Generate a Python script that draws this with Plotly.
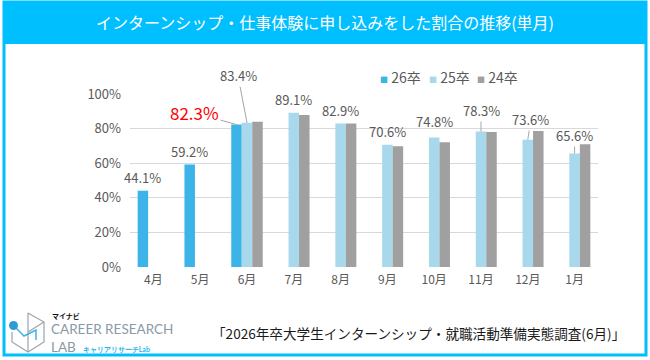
import plotly.graph_objects as go

# ---------------- data ----------------
months = ["4月", "5月", "6月", "7月", "8月", "9月", "10月", "11月", "12月", "1月"]
v26 = [44.1, 59.2, 82.3, None, None, None, None, None, None, None]
v25 = [None, None, 83.4, 89.1, 82.9, 70.6, 74.8, 78.3, 73.6, 65.6]
v24 = [None, None, 84.0, 87.9, 82.9, 69.8, 72.1, 78.0, 78.6, 70.9]
series_names = ["26卒", "25卒", "24卒"]
y_ticks = [0, 20, 40, 60, 80, 100]
y_tick_labels = ["0%", "20%", "40%", "60%", "80%", "100%"]

title_text = "インターンシップ・仕事体験に申し込みをした割合の推移(単月)"
source_text = "「2026年卒大学生インターンシップ・就職活動準備実態調査(6月)」"

# ---------------- style ----------------
C26, C25, C24 = "#3DB4E7", "#A7D8EB", "#A0A0A0"
CYAN = "#00BFFF"
GRAY_TXT = "#595959"
FONT = "Noto Sans CJK JP"

W, H = 650, 360
L, R, T, B = 130, 598, 94, 267   # plot area in pixels
SLOT = 10.5                       # bar slot width in pixels


def px(x):
    return (x - L) / (R - L)


def py(y):
    return (B - y) / (B - T)


fig = go.Figure()
for name, vals, col in zip(series_names, [v26, v25, v24], [C26, C25, C24]):
    fig.add_trace(go.Bar(x=months, y=vals, name=name, marker_color=col,
                         marker_line_width=0, showlegend=False))

annotations = []
# special label offsets (pixels): (ax, ay) for leader-line labels
leader = {"11月": (0, -21), "12月": (3, -20), "1月": (0, -18)}
for i, m in enumerate(months):
    if v26[i] is not None and v25[i] is None:
        annotations.append(dict(x=m, y=v26[i], text=f"{v26[i]:.1f}%", showarrow=False,
                                xshift=-SLOT, yshift=13, yanchor="middle",
                                font=dict(size=13, color=GRAY_TXT, family=FONT)))
    elif v26[i] is not None and v25[i] is not None:
        annotations.append(dict(x=m, y=v26[i], text=f"{v26[i]:.1f}%", showarrow=True,
                                arrowhead=0, arrowwidth=1, arrowcolor="#A6A6A6",
                                ax=-42, ay=-12, xshift=-SLOT,
                                font=dict(size=17, color="#FF0000", family=FONT)))
        annotations.append(dict(x=m, y=v25[i], text=f"{v25[i]:.1f}%", showarrow=True,
                                arrowhead=0, arrowwidth=1, arrowcolor="#A6A6A6",
                                ax=-9, ay=-47,
                                font=dict(size=13, color=GRAY_TXT, family=FONT)))
    elif v25[i] is not None:
        if m in leader:
            ax, ay = leader[m]
            annotations.append(dict(x=m, y=v25[i], text=f"{v25[i]:.1f}%", showarrow=True,
                                    arrowhead=0, arrowwidth=1, arrowcolor="#A6A6A6",
                                    ax=ax, ay=ay,
                                    font=dict(size=13, color=GRAY_TXT, family=FONT)))
        else:
            annotations.append(dict(x=m, y=v25[i], text=f"{v25[i]:.1f}%", showarrow=False,
                                    yshift=16 if m == "10月" else 13, yanchor="middle",
                                    font=dict(size=13, color=GRAY_TXT, family=FONT)))

# legend (manual)
leg_x = [378, 427, 475]
for name, col, lx in zip(series_names, [C26, C25, C24], leg_x):
    annotations.append(dict(xref="paper", yref="paper", x=px(lx), y=py(77),
                            xanchor="left", yanchor="middle", showarrow=False,
                            text=f'<span style="color:{col};font-size:8px">■</span> {name}',
                            font=dict(size=14, color=GRAY_TXT, family=FONT)))

# title
annotations.append(dict(xref="paper", yref="paper", x=px(325), y=py(22), showarrow=False,
                        xanchor="center", yanchor="middle", text=title_text,
                        font=dict(size=16, color="white", family=FONT)))
# source
annotations.append(dict(xref="paper", yref="paper", x=px(627), y=py(333), showarrow=False,
                        xanchor="right", yanchor="middle", text=source_text,
                        font=dict(size=13.6, color="#1A1A1A", family=FONT)))
# logo texts
annotations += [
    dict(xref="paper", yref="paper", x=px(50), y=py(316), showarrow=False, xanchor="left",
         yanchor="middle", text="<b>マイナビ</b>", font=dict(size=7, color="#111", family=FONT)),
    dict(xref="paper", yref="paper", x=px(49), y=py(338), showarrow=False, xanchor="left",
         yanchor="middle", align="left",
         text=("CAREER RESEARCH<br>LAB  <span style='font-size:7px;color:#29B6E8'>"
               "<b>キャリアリサーチLab</b></span>"),
         font=dict(size=13.5, color="#8A9AA6", family="Lato")),
]

shapes = [
    # outer frame
    dict(type="rect", xref="paper", yref="paper", x0=px(4), x1=px(646), y0=py(2), y1=py(355),
         line=dict(color=CYAN, width=3), fillcolor="rgba(0,0,0,0)", layer="below"),
    # title bar
    dict(type="rect", xref="paper", yref="paper", x0=px(3), x1=px(647), y0=py(1), y1=py(44),
         line=dict(width=0), fillcolor=CYAN, layer="below"),
    # logo cube
    dict(type="path", xref="paper", yref="paper",
         path=(f"M {px(28)},{py(313)} L {px(44)},{py(322)} L {px(44)},{py(342)} L {px(28)},{py(352)} "
               f"L {px(12)},{py(342)} L {px(12)},{py(332)}"),
         line=dict(color="#9AA5AD", width=1.2)),
    dict(type="path", xref="paper", yref="paper",
         path=f"M {px(28)},{py(313)} L {px(28)},{py(352)} M {px(28)},{py(332)} L {px(44)},{py(322)}",
         line=dict(color="#9AA5AD", width=1.2)),
    dict(type="path", xref="paper", yref="paper",
         path=f"M {px(14)},{py(326)} L {px(24)},{py(336)} L {px(36)},{py(330)} L {px(36)},{py(340)}",
         line=dict(color="#3DB4E7", width=1.5)),
    dict(type="circle", xref="paper", yref="paper", x0=px(9), x1=px(18), y0=py(321), y1=py(330),
         line=dict(width=0), fillcolor="#2E9BD6"),
]

fig.update_layout(
    width=W, height=H,
    margin=dict(l=L, r=W - R, t=T, b=H - B, autoexpand=False),
    paper_bgcolor="white", plot_bgcolor="white",
    barmode="group", bargap=0.327, bargroupgap=0,
    font=dict(family=FONT, color=GRAY_TXT),
    showlegend=False,
    annotations=annotations,
    shapes=shapes,
)
fig.update_yaxes(range=[0, 100], tickmode="array", tickvals=y_ticks, ticktext=y_tick_labels,
                 showgrid=True, gridcolor="#D9D9D9", gridwidth=1, zeroline=False, showline=False,
                 tickfont=dict(size=13, color=GRAY_TXT), ticklabelstandoff=8, automargin=False)
fig.update_xaxes(range=[-0.5, len(months) - 0.5], showgrid=False, showline=False,
                 tickfont=dict(size=12, color=GRAY_TXT), ticklabelstandoff=4, automargin=False)

fig.write_html("out.html", config={"displayModeBar": False},
               post_script="document.body.style.margin='0';document.body.style.overflow='hidden';")
